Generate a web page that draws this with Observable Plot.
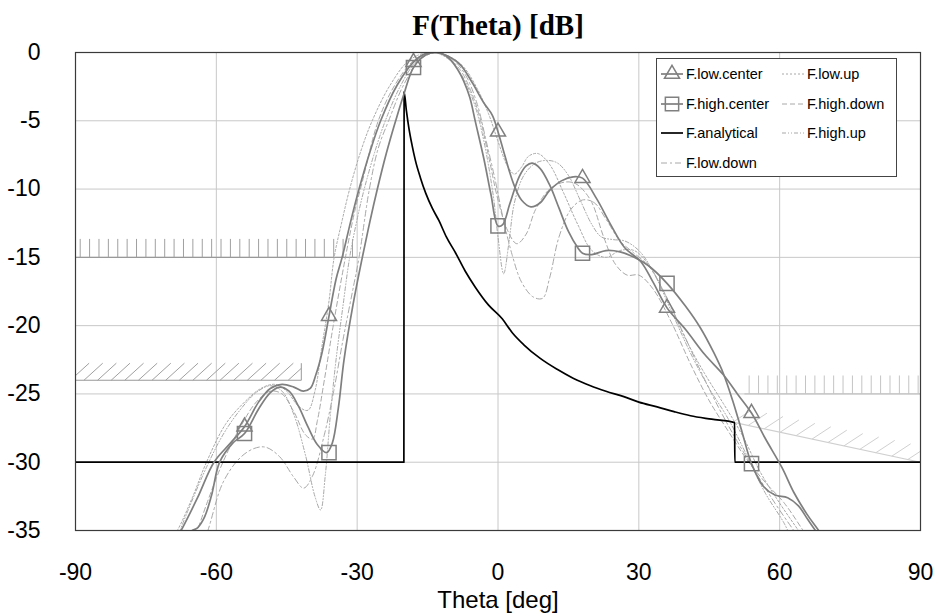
<!DOCTYPE html>
<html>
<head>
<meta charset="utf-8">
<script src="https://cdn.jsdelivr.net/npm/d3@7"></script>
<script src="https://cdn.jsdelivr.net/npm/@observablehq/plot@0.6"></script>
<style>
  html, body { margin: 0; padding: 0; background: #fff; }
  #wrap { position: relative; width: 939px; height: 616px; }
  #legend { position: absolute; left: 656px; top: 58px; width: 241px; height: 119px;
    border: 1px solid #444; background: #fff; box-sizing: border-box;
    font-family: "Liberation Sans", Arial, sans-serif; font-size: 14.5px; color: #000; }
  .item { position: absolute; display: flex; align-items: center; height: 20px; }
  .item svg { margin-right: 2px; }
</style>
</head>
<body>
<div id="wrap"><div id="legend"></div></div>
<script>
// ---------- data ----------
const title = "F(Theta) [dB]";
const xLabel = "Theta [deg]";
const xTicks = [-90, -60, -30, 0, 30, 60, 90];
const yTicks = [0, -5, -10, -15, -20, -25, -30, -35];

const markerTheta = [-54, -36, -18, 0, 18, 36, 54];
const lowCenterMarks = [-27.4, -19.3, -0.7, -5.8, -9.2, -18.7, -26.4];
const highCenterMarks = [-27.9, -29.3, -1.1, -12.7, -14.7, -16.9, -30.1];

const lowCenter = [[-70,-36.5],[-67.5,-35],[-64,-32.6],[-60.5,-30],[-57,-28.6],[-54,-27.4],[-51,-25.6],[-48.5,-24.6],[-46,-24.3],[-43.5,-24.5],[-41.5,-24.8],[-40,-24.6],[-38.8,-23.6],[-37.5,-22],[-36,-19.3],[-34.5,-16.6],[-33.2,-15],[-31.4,-12.4],[-29.6,-10],[-27.3,-7.3],[-25,-5],[-21.5,-2.4],[-18,-0.7],[-15.5,-0.1],[-13,0],[-10.5,-0.3],[-8,-0.9],[-5.5,-2.2],[-3,-3.7],[-1.2,-4.6],[0,-5.8],[1.5,-7.6],[3.3,-9.6],[5,-10.8],[7,-11.3],[9,-11],[11,-10.1],[13.5,-9.4],[16,-9.1],[18,-9.2],[21,-10.7],[24,-12.6],[27,-14.3],[30.4,-15.3],[33,-16.8],[36,-18.7],[40,-20.3],[44,-22.1],[48,-23.6],[51,-25],[54,-26.4],[57,-28.3],[60.5,-30.4],[63,-32.2],[65.8,-33.8],[68.7,-35.2],[70,-36]];

const highCenter = [[-67,-36.5],[-65.5,-35.1],[-64,-34.8],[-62.5,-34],[-61,-32.4],[-59.3,-30],[-56.5,-28.6],[-54,-27.9],[-51,-26.1],[-48.5,-24.9],[-46.5,-24.5],[-44.5,-24.8],[-42.5,-25.9],[-40.5,-27.4],[-38.5,-28.7],[-36.5,-29.3],[-35.3,-28.6],[-34,-26],[-32.8,-22.5],[-30.9,-18.5],[-28.9,-15],[-27.3,-12.4],[-25.7,-10],[-23.8,-7.4],[-21.8,-5],[-20,-3],[-18,-1.1],[-15.5,-0.2],[-13,0],[-10.5,-0.4],[-8.5,-1.3],[-7.3,-2.1],[-6,-3.3],[-4.8,-5.1],[-3,-7.8],[-1.5,-10.4],[0,-12.7],[1,-12.6],[2.5,-11.1],[4.5,-9.1],[6,-8.3],[7.3,-8.1],[9,-8.5],[11,-9.7],[13,-11.4],[15,-13.1],[17,-14.3],[18,-14.7],[20,-14.8],[23,-14.5],[26,-14.6],[29,-15],[32,-15.6],[36,-16.9],[40,-18.6],[43,-20.1],[46,-22],[48,-23.5],[50,-25.5],[52,-27.8],[54,-30.1],[56.6,-31.8],[59,-32.4],[61.7,-32.6],[64,-33.2],[66,-34.2],[68,-35.2],[69.5,-36]];

const analytical = [[-90,-30],[-20.05,-30],[-20,-2.9],[-19.5,-4.3],[-19,-5.5],[-18.3,-6.8],[-17.6,-7.9],[-16.5,-9.2],[-15.4,-10.3],[-14,-11.4],[-12.6,-12.3],[-11,-13.5],[-9,-14.7],[-7,-16],[-4.8,-17.2],[-2,-18.5],[0.9,-19.5],[3,-20.5],[5.5,-21.4],[9,-22.4],[12.6,-23.2],[16,-23.85],[19.7,-24.4],[23,-24.8],[26.8,-25.2],[30,-25.6],[33.9,-25.95],[37.5,-26.3],[41,-26.6],[45.5,-26.85],[50.4,-27.1],[50.45,-30],[90,-30]];

const lowUp = [[-72,-37],[-68.3,-35],[-65,-32.5],[-62.1,-30],[-58,-27.2],[-54,-25.6],[-50.5,-24.6],[-47.5,-24.3],[-45,-24.8],[-42.5,-25.9],[-40.5,-26.2],[-39,-24.8],[-37.5,-21.5],[-36,-18.2],[-34.9,-15],[-33.2,-12.3],[-31.6,-10],[-29.2,-7.2],[-26.8,-5],[-23,-2.4],[-19,-0.6],[-15,0],[-11,-0.2],[-7.5,-1],[-4.5,-2.6],[-2,-4.5],[0,-6.5],[2,-8.3],[3.5,-8.9],[5,-8.4],[6.5,-7.6],[8.5,-7.4],[11,-8.2],[14,-10.3],[17,-12.6],[20,-14.5],[23,-15],[26,-14.5],[29,-14.5],[32,-15.5],[36,-18],[40,-21],[44,-23.5],[48,-25.7],[52,-28],[56,-30.8],[60,-33],[64,-35],[66,-36]];

const highDown = [[-66,-37],[-62,-33],[-58.6,-30],[-55,-27.5],[-51.5,-25.6],[-48.5,-24.8],[-46,-25],[-43.5,-26.3],[-41,-28],[-39.5,-28.3],[-38.5,-27],[-37,-24],[-35,-19.8],[-32.5,-15],[-30.5,-11.6],[-29,-9.6],[-25.5,-5],[-22,-2.4],[-18,-0.6],[-14.5,0],[-11,-0.3],[-8,-1.3],[-5.8,-2.8],[-4,-4.6],[-2,-7.6],[0,-10.8],[2,-13],[4,-14],[6,-13.3],[8,-11.5],[11,-10],[14,-9.5],[16.5,-9.6],[19.7,-10.8],[22.5,-13.5],[25,-15.5],[27.5,-16.3],[30,-16.3],[33,-17.3],[37,-19.8],[41,-22.8],[45,-25.5],[49,-27.7],[53,-29.8],[57,-31.5],[61,-33],[65,-35],[67,-36]];

const highUp = [[-70,-37],[-66,-33.5],[-62,-30.3],[-58.6,-28],[-55,-26.2],[-51.5,-24.9],[-48.5,-24.4],[-46,-24.8],[-43.5,-26.5],[-41,-29.5],[-39,-32.5],[-37.8,-33.5],[-36.8,-31],[-35.7,-26.5],[-34.5,-22.5],[-33,-18.5],[-31.6,-15],[-30,-12.2],[-28.5,-10],[-26,-7],[-24,-5],[-21,-2.6],[-17.5,-0.7],[-14,0],[-10.5,-0.5],[-7.5,-1.8],[-5,-3.8],[-3,-6.5],[-1,-10.5],[0,-13.5],[1.2,-16.2],[2.3,-14],[3.5,-11],[5.5,-9],[8,-8.1],[10.5,-7.9],[12.7,-8.1],[15,-9],[17.5,-10.8],[20,-12.6],[22,-13.5],[24.5,-13.7],[27,-13.8],[30,-14.5],[33,-16],[37,-19],[41,-22],[45,-24.6],[49,-26.8],[53,-29.5],[57,-32.3],[61,-34.5],[63,-36]];

const lowDown = [[-64,-37],[-61.8,-35],[-58.6,-31.5],[-55,-29.7],[-52,-29],[-49.5,-28.9],[-46.5,-29.6],[-43.5,-31.1],[-41.4,-31.9],[-39.5,-31],[-37,-28],[-35,-24.8],[-33,-21],[-31,-17.5],[-29.6,-15],[-27.4,-10],[-25.5,-7],[-23.3,-5],[-20,-2.3],[-16.5,-0.5],[-13,0],[-10,-0.4],[-7,-1.6],[-4.5,-3.7],[-2.5,-6.5],[-0.5,-9.5],[1,-12],[3,-14.8],[5,-16.8],[7.5,-17.9],[9.5,-18],[11,-16.5],[13,-13.5],[15.5,-11.5],[18,-10.8],[20.5,-11],[23,-12.2],[26,-13.8],[29,-14.7],[32,-15.6],[35,-17.3],[39,-20.2],[43,-23.2],[47,-26],[51,-28.5],[55,-30.8],[59,-33],[63,-35],[65,-36]];

// mask limits (theta, dB)
const maskCombLeft = [[-90,-15],[-30,-15]];
const maskHatchLeft = [[-90,-24],[-41.9,-24]];
const maskCombRight = [[52.5,-25],[90,-25]];
const maskSlopeRight = [[50.5,-27.1],[90,-30]];

// ---------- helpers ----------
const toRows = (pts, name) => pts.map(([x, y]) => ({x, y, name}));
function combTicks(seg, step, h) {
  const [[xa, ya], [xb, yb]] = seg, out = [];
  for (let x = xa + step / 2; x <= xb + 1e-9; x += step) {
    const y = ya + (yb - ya) * (x - xa) / (xb - xa);
    out.push({x1: x, y1: y, x2: x, y2: y + h});
  }
  return out;
}
function hatchLines(seg, step, dx, dh) {
  const [[xa, ya], [xb, yb]] = seg, out = [];
  const base = x => ya + (yb - ya) * (x - xa) / (xb - xa);
  for (let xs = xa - dx; xs < xb; xs += step) {
    const b = xs < xa ? ya : base(xs);
    let x1 = xs, y1 = b, x2 = xs + dx, y2 = b + dh;
    if (xs < xa) { x1 = xa; y1 = ya + dh * (xa - xs) / dx; }
    if (x2 > xb) { y2 = b + dh * (xb - xs) / dx; x2 = xb; }
    if (x2 > x1) out.push({x1, y1, x2, y2});
  }
  return out;
}

const solidColor = "#7f7f7f";
const dashColor = "#a8a8a8";
const dashed = [
  {name: "F.low.up", data: lowUp, dash: "2,2"},
  {name: "F.high.down", data: highDown, dash: "5,3"},
  {name: "F.high.up", data: highUp, dash: "4,2,1,2,1,2"},
  {name: "F.low.down", data: lowDown, dash: "6,3,2,3"}
];
const seg = {x1: d => d[0][0], y1: d => d[0][1], x2: d => d[1][0], y2: d => d[1][1]};

const marks = [
  Plot.gridX(xTicks, {stroke: "#c8c8c8", strokeOpacity: 1, strokeWidth: 1}),
  Plot.gridY(yTicks, {stroke: "#c8c8c8", strokeOpacity: 1, strokeWidth: 1}),
  // masks
  Plot.link([maskCombLeft], {...seg, stroke: "#999", strokeWidth: 1.2}),
  Plot.link(combTicks(maskCombLeft, 2, 1.35), {x1: "x1", y1: "y1", x2: "x2", y2: "y2", stroke: "#a0a0a0", strokeWidth: 1}),
  Plot.link([maskHatchLeft], {...seg, stroke: "#999", strokeWidth: 1.2}),
  Plot.link([maskHatchLeft], {x1: d => d[1][0], y1: d => d[1][1], x2: d => d[1][0], y2: d => d[1][1] + 1.25, stroke: "#999", strokeWidth: 1}),
  Plot.link(hatchLines(maskHatchLeft, 2.9, 4, 1.25), {x1: "x1", y1: "y1", x2: "x2", y2: "y2", stroke: "#a0a0a0", strokeWidth: 1}),
  Plot.link([maskCombRight], {...seg, stroke: "#c4c4c4", strokeWidth: 1.2}),
  Plot.link(combTicks(maskCombRight, 2, 1.35), {x1: "x1", y1: "y1", x2: "x2", y2: "y2", stroke: "#c4c4c4", strokeWidth: 1}),
  Plot.link([maskSlopeRight], {...seg, stroke: "#cfcfcf", strokeWidth: 1.2}),
  Plot.link(hatchLines(maskSlopeRight, 3.4, 4, 0.9).filter(d => d.x1 >= maskSlopeRight[0][0]), {x1: "x1", y1: "y1", x2: "x2", y2: "y2", stroke: "#d0d0d0", strokeWidth: 1}),
  // dashed variants
  ...dashed.map(s => Plot.line(toRows(s.data, s.name), {x: "x", y: "y", curve: "catmull-rom", stroke: dashColor, strokeWidth: 1, strokeDasharray: s.dash, clip: true})),
  // analytical
  Plot.line(toRows(analytical, "F.analytical"), {x: "x", y: "y", curve: "monotone-x", stroke: "#000", strokeWidth: 1.7, clip: true}),
  // centers
  Plot.line(toRows(lowCenter, "F.low.center"), {x: "x", y: "y", curve: "catmull-rom", stroke: solidColor, strokeWidth: 1.7, clip: true}),
  Plot.line(toRows(highCenter, "F.high.center"), {x: "x", y: "y", curve: "catmull-rom", stroke: solidColor, strokeWidth: 1.7, clip: true}),
  Plot.dot(markerTheta.map((x, i) => ({x, y: lowCenterMarks[i]})), {x: "x", y: "y", symbol: "triangle", r: 5.6, stroke: "#808080", strokeWidth: 1.5, fill: "none"}),
  Plot.dot(markerTheta.map((x, i) => ({x, y: highCenterMarks[i]})), {x: "x", y: "y", symbol: "square", r: 8, stroke: "#808080", strokeWidth: 1.5, fill: "none"}),
  Plot.frame({stroke: "#3a3a3a", strokeWidth: 1.2}),
  Plot.axisX(xTicks, {tickSize: 0, tickPadding: 33, fontSize: 23, tickFormat: d => String(d), label: null}),
  Plot.axisY(yTicks, {tickSize: 0, tickPadding: 35, fontSize: 23, tickFormat: d => String(d), label: null}),
  Plot.text([xLabel], {text: d => d, frameAnchor: "bottom", dy: 70, lineAnchor: "middle", fontSize: 24}),
  Plot.text([title], {text: d => d, frameAnchor: "top", dy: -27, lineAnchor: "middle", fontSize: 29, fontWeight: "bold", fontFamily: "Liberation Serif, Times New Roman, serif"})
];

const chart = Plot.plot({
  width: 939, height: 616,
  marginLeft: 75, marginRight: 19, marginTop: 52, marginBottom: 86,
  x: {domain: [-90, 90]},
  y: {domain: [-35, 0]},
  style: {fontFamily: "Liberation Sans, Arial, sans-serif", background: "#fff", color: "#000"},
  marks
});
document.getElementById("wrap").prepend(chart);

// ---------- legend ----------
const legendItems = [
  {name: "F.low.center", color: solidColor, width: 1.7, dash: null, symbol: "triangle", col: 0, row: 0},
  {name: "F.high.center", color: solidColor, width: 1.7, dash: null, symbol: "square", col: 0, row: 1},
  {name: "F.analytical", color: "#000", width: 1.7, dash: null, symbol: null, col: 0, row: 2},
  {name: "F.low.down", color: dashColor, width: 1, dash: "6,3,2,3", symbol: null, col: 0, row: 3},
  {name: "F.low.up", color: dashColor, width: 1, dash: "2,2", symbol: null, col: 1, row: 0},
  {name: "F.high.down", color: dashColor, width: 1, dash: "5,3", symbol: null, col: 1, row: 1},
  {name: "F.high.up", color: dashColor, width: 1, dash: "4,2,1,2,1,2", symbol: null, col: 1, row: 2}
];
const legend = document.getElementById("legend");
const ns = "http://www.w3.org/2000/svg";
for (const it of legendItems) {
  const div = document.createElement("div");
  div.className = "item";
  div.style.left = (it.col ? 124 : 3) + "px";
  div.style.top = (5 + it.row * 29.6) + "px";
  const svg = document.createElementNS(ns, "svg");
  svg.setAttribute("width", 24); svg.setAttribute("height", 20);
  const ln = document.createElementNS(ns, "line");
  ln.setAttribute("x1", 1); ln.setAttribute("x2", 23); ln.setAttribute("y1", 10); ln.setAttribute("y2", 10);
  ln.setAttribute("stroke", it.color); ln.setAttribute("stroke-width", it.width);
  if (it.dash) ln.setAttribute("stroke-dasharray", it.dash);
  svg.appendChild(ln);
  if (it.symbol) {
    const p = document.createElementNS(ns, "path");
    const sym = it.symbol === "triangle" ? d3.symbolTriangle : d3.symbolSquare;
    const size = it.symbol === "triangle" ? Math.PI * 5.6 * 5.6 : Math.PI * 7.5 * 7.5;
    p.setAttribute("d", d3.symbol(sym, size)());
    p.setAttribute("transform", "translate(12,10)");
    p.setAttribute("fill", "none"); p.setAttribute("stroke", "#808080"); p.setAttribute("stroke-width", 1.5);
    svg.appendChild(p);
  }
  div.appendChild(svg);
  const span = document.createElement("span");
  span.textContent = it.name;
  div.appendChild(span);
  legend.appendChild(div);
}
</script>
</body>
</html>
